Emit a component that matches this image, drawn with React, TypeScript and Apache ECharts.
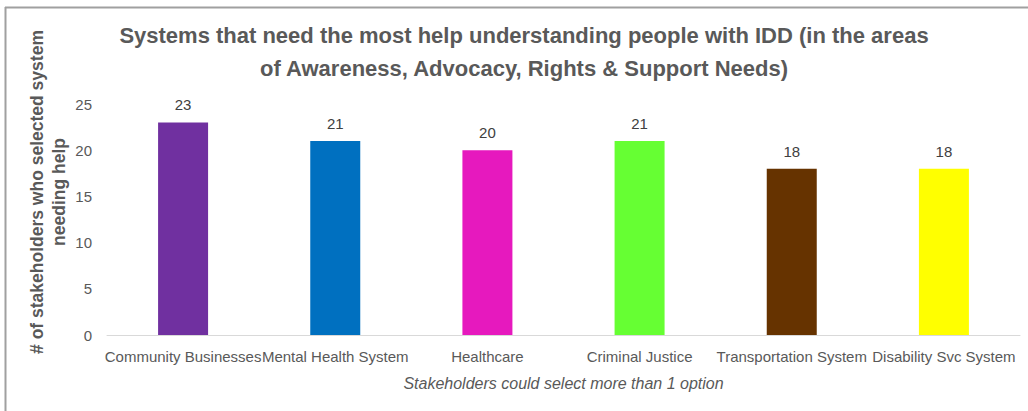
import React, { useEffect, useRef } from "react";
import * as echarts from "echarts";

const categories = [
  "Community Businesses",
  "Mental Health System",
  "Healthcare",
  "Criminal Justice",
  "Transportation System",
  "Disability Svc System",
];
const values = [23, 21, 20, 21, 18, 18];
const barColors = ["#7030A0", "#0070C0", "#E619BE", "#66FF33", "#663300", "#FFFF00"];
const titleText =
  "Systems that need the most help understanding people with IDD (in the areas\nof Awareness, Advocacy, Rights & Support Needs)";
const yAxisName = "# of stakeholders who selected system\nneeding help";
const xAxisName = "Stakeholders could select more than 1 option";

const FONT = "'Liberation Sans', Arial, sans-serif";

export default function App() {
  const ref = useRef<HTMLDivElement>(null);
  useEffect(() => {
    document.body.style.margin = "0";
    const chart = echarts.init(ref.current!, null, { renderer: "svg" });
    chart.setOption({
      animation: false,
      backgroundColor: "#ffffff",
      textStyle: { fontFamily: FONT },
      title: {
        text: titleText,
        left: 519,
        top: 14,
        textAlign: "center",
        textStyle: {
          fontFamily: FONT,
          fontSize: 22,
          fontWeight: "bold",
          color: "#595959",
          lineHeight: 33,
        },
      },
      graphic: [
        { type: "line", shape: { x1: 5, y1: 7.5, x2: 1028, y2: 7.5 }, style: { stroke: "#A0A0A0", lineWidth: 2 } },
        { type: "line", shape: { x1: 5.5, y1: 7, x2: 5.5, y2: 411 }, style: { stroke: "#A0A0A0", lineWidth: 2 } },
        {
          type: "text",
          x: 48,
          y: 192,
          rotation: Math.PI / 2,
          style: {
            text: yAxisName,
            fill: "#595959",
            fontFamily: FONT,
            fontSize: 17.5,
            fontWeight: "bold",
            lineHeight: 22,
            align: "center",
            verticalAlign: "middle",
          },
        },
      ],
      grid: { left: 107, right: 8, top: 104, bottom: 76 },
      xAxis: {
        type: "category",
        data: categories,
        axisLine: { lineStyle: { color: "#D9D9D9" } },
        axisTick: { show: false },
        axisLabel: { color: "#595959", fontSize: 15, fontFamily: FONT, margin: 14, interval: 0 },
        name: xAxisName,
        nameLocation: "middle",
        nameGap: 40,
        nameTextStyle: { color: "#595959", fontSize: 16, fontStyle: "italic", fontFamily: FONT },
      },
      yAxis: {
        type: "value",
        min: 0,
        max: 25,
        interval: 5,
        splitLine: { show: false },
        axisLine: { show: false },
        axisTick: { show: false },
        axisLabel: { color: "#595959", fontSize: 15, fontFamily: FONT, margin: 15 },
      },
      series: [
        {
          type: "bar",
          barWidth: 50,
          data: values.map((v, i) => ({ value: v, itemStyle: { color: barColors[i] } })),
          label: {
            show: true,
            position: "top",
            distance: 10,
            color: "#404040",
            fontSize: 15,
            fontFamily: FONT,
          },
        },
      ],
    });
    return () => chart.dispose();
  }, []);
  return <div ref={ref} style={{ width: 1028, height: 411 }} />;
}
